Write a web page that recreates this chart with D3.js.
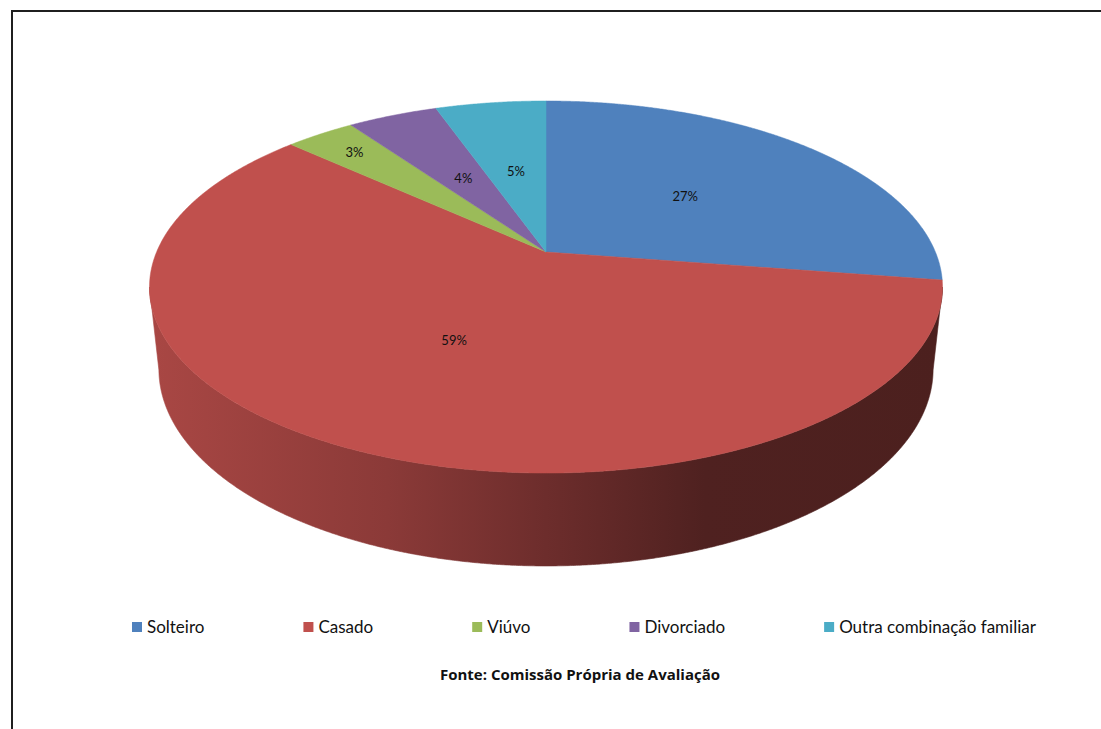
<!DOCTYPE html>
<html>
<head>
<meta charset="utf-8">
<script src="https://cdn.jsdelivr.net/npm/d3@7/dist/d3.min.js"></script>
<style>
html,body{margin:0;padding:0;background:#fff;}
svg{display:block;}
</style>
</head>
<body>
<svg id="chart" width="1101" height="729"></svg>
<script>
// ---- data ----
const categories = ["Solteiro", "Casado", "Viúvo", "Divorciado", "Outra combinação familiar"];
const values = [27.4, 59.3, 3.4, 4.4, 5.4];
const colors = ["#4f81bd", "#c0504d", "#9bbb59", "#8064a2", "#4bacc6"];
const sourceText = "Fonte: Comissão Própria de Avaliação";

// ---- geometry (perspective 3D pie) ----
const W = 1101, H = 729;
const cx = 546, cy = 252;
const F = 1836, R = 0.2121, thick = 0.0508;
const elev = Math.asin(0.4608);
const sinE = Math.sin(elev), cosE = Math.cos(elev);

function proj(phi, r, z) {
  const X = r * R * Math.sin(phi), Y = -r * R * Math.cos(phi);
  const depth = 1 - Y * cosE - z * sinE;
  return [cx + F * X / depth, cy + F * (Y * sinE - z * cosE) / depth];
}

const svg = d3.select("#chart");
svg.append("rect").attr("width", W).attr("height", H).attr("fill", "#fff");
svg.append("rect").attr("x", 12).attr("y", 11).attr("width", 1300).attr("height", 1000)
  .attr("fill", "none").attr("stroke", "#1f1f1f").attr("stroke-width", 2);

const total = d3.sum(values);
const pie = d3.pie().sort(null).startAngle(0).endAngle(2 * Math.PI);
const arcs = pie(values);

// gradient for side walls
const defs = svg.append("defs");
const a = R * cosE;
const visA = Math.acos(-a), visB = 2 * Math.PI - visA;
const xL = proj(visB, 1, 0)[0], xR = proj(visA, 1, 0)[0];
const darkStops = [[0, 0.35], [0.3, 0.9], [0.5, 1.6], [0.7, 2.5], [1, 2.6]];
arcs.forEach((d, i) => {
  const g = defs.append("linearGradient").attr("id", "side" + i)
    .attr("gradientUnits", "userSpaceOnUse")
    .attr("x1", xL).attr("x2", xR).attr("y1", 0).attr("y2", 0);
  darkStops.forEach(([o, k]) => {
    g.append("stop").attr("offset", o).attr("stop-color", d3.color(colors[i]).darker(k).formatHex());
  });
});

const step = Math.PI / 720;
function arcPts(a0, a1, r, z) {
  const n = Math.max(2, Math.ceil((a1 - a0) / step));
  const pts = [];
  for (let k = 0; k <= n; k++) pts.push(proj(a0 + (a1 - a0) * k / n, r, z));
  return pts;
}
const line = d3.line();

// side walls
const gSide = svg.append("g");
arcs.forEach((d, i) => {
  const s = Math.max(d.startAngle, visA), e = Math.min(d.endAngle, visB);
  if (e <= s) return;
  const top = arcPts(s, e, 1, 0);
  const bot = arcPts(s, e, 1, -thick).reverse();
  gSide.append("path").attr("d", line(top.concat(bot)) + "Z")
    .attr("fill", `url(#side${i})`).attr("stroke", `url(#side${i})`).attr("stroke-width", 0.6);
});

// top faces
const gTop = svg.append("g");
arcs.forEach((d, i) => {
  const pts = [proj(0, 0, 0)].concat(arcPts(d.startAngle, d.endAngle, 1, 0));
  gTop.append("path").attr("d", line(pts) + "Z")
    .attr("fill", colors[i]).attr("stroke", colors[i]).attr("stroke-width", 0.5);
});

// percentage labels
const fmt = d3.format(".0%");
arcs.forEach((d, i) => {
  const frac = d.value / total;
  const mid = (d.startAngle + d.endAngle) / 2;
  const r = frac < 0.035 ? 0.83 : 0.5;
  const p = proj(mid, r, 0);
  svg.append("text").attr("x", p[0]).attr("y", p[1]).attr("dy", "0.35em")
    .attr("text-anchor", "middle")
    .style("font-family", "Lato, 'Open Sans', sans-serif").style("font-size", "13px")
    .attr("fill", "#111").text(fmt(frac));
});

// legend
const legend = svg.append("g");
let lx = 132;
const ly = 627;
categories.forEach((c, i) => {
  legend.append("rect").attr("x", lx).attr("y", ly - 5).attr("width", 10).attr("height", 10)
    .attr("fill", colors[i]);
  const t = legend.append("text").attr("x", lx + 15).attr("y", ly + 6)
    .style("font-family", "Lato, 'Open Sans', sans-serif").style("font-size", "17px")
    .attr("fill", "#111").text(c);
  lx += 15 + t.node().getComputedTextLength() + 99;
});

// source
svg.append("text").attr("x", 580).attr("y", 680).attr("text-anchor", "middle")
  .style("font-family", "'Open Sans', Lato, sans-serif").style("font-size", "15px")
  .style("font-weight", "bold").attr("fill", "#111").text(sourceText);
</script>
</body>
</html>
